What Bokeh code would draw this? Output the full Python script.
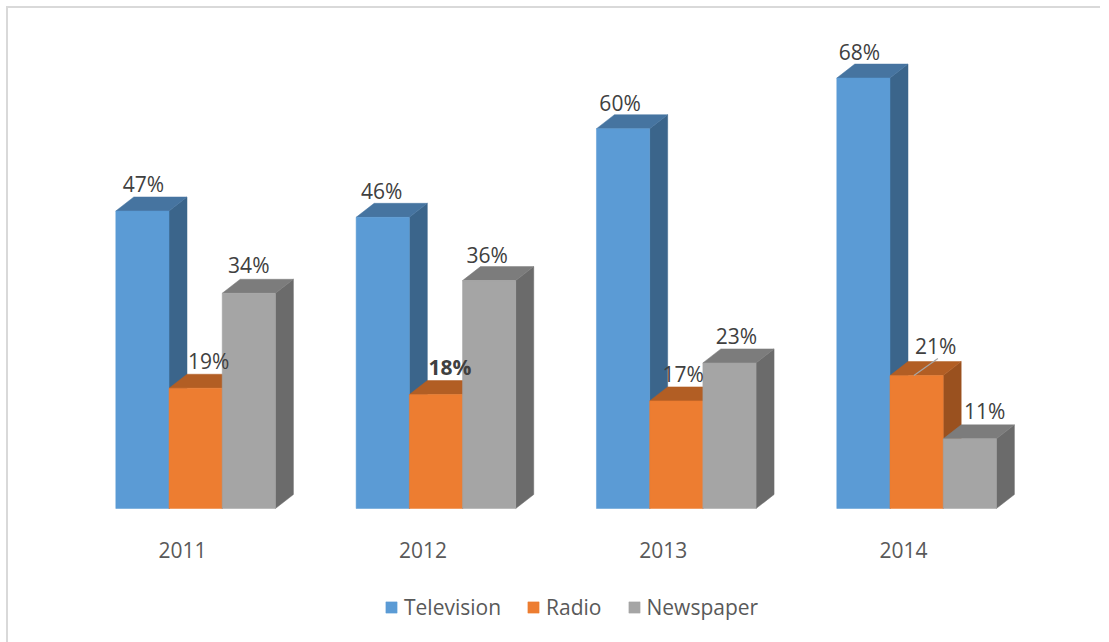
from bokeh.embed import file_html
from bokeh.models import Legend, LegendItem, Range1d
from bokeh.plotting import figure
from bokeh.resources import INLINE
from bokeh.core.properties import value

# Share of respondents by medium and year
years = ["2011", "2012", "2013", "2014"]
television = [47, 46, 60, 68]
radio = [19, 18, 17, 21]
newspaper = [34, 36, 23, 11]
series_names = ["Television", "Radio", "Newspaper"]

# Front, top and side face colours of each series
front_colors = ["#5b9bd5", "#ed7d31", "#a5a5a5"]
top_colors = ["#4674a0", "#b25e24", "#7c7c7c"]
side_colors = ["#3b658b", "#9a511f", "#6b6b6b"]

WIDTH, HEIGHT = 1109, 642
BASE_Y = 508          # pixel row of the bar bases
PX_PER_PCT = 6.33
GROUP_STEP = 240.33   # pixels between year groups
FIRST_LEFT = 115.3    # pixel column where the first bar begins
BAR_W = 53.2
DEPTH_X, DEPTH_Y = 18, 14

# One x unit is one year group, one y unit is one percentage point
x_start = -FIRST_LEFT / GROUP_STEP
x_end = (WIDTH - FIRST_LEFT) / GROUP_STEP
y_start = -(HEIGHT - BASE_Y) / PX_PER_PCT
y_end = BASE_Y / PX_PER_PCT
bar_w = BAR_W / GROUP_STEP
dx = DEPTH_X / GROUP_STEP
dy = DEPTH_Y / PX_PER_PCT

# The thin top and left frame lines are painted behind a transparent canvas
FRAME = "linear-gradient(#d9d9d9,#d9d9d9)"

p = figure(
    width=WIDTH, height=HEIGHT,
    x_range=Range1d(x_start, x_end), y_range=Range1d(y_start, y_end),
    output_backend="svg", toolbar_location=None,
    x_axis_type=None, y_axis_type=None,
    min_border=0, outline_line_color=None,
    background_fill_color=None, border_fill_color=None,
    styles={
        "background-image": f"{FRAME},{FRAME}",
        "background-position": "6px 6px,6px 6px",
        "background-size": "1094px 2px,2px 636px",
        "background-repeat": "no-repeat",
    },
)
p.grid.visible = False

all_series = [television, radio, newspaper]
legend_items = []

for s, vals in enumerate(all_series):
    lefts = [g + s * bar_w for g in range(len(years))]
    rights = [x + bar_w for x in lefts]
    tops_xs = [[l, r, r + dx, l + dx] for l, r in zip(lefts, rights)]
    tops_ys = [[v, v, v + dy, v + dy] for v in vals]
    side_xs = [[r, r + dx, r + dx, r] for r in rights]
    side_ys = [[0, dy, v + dy, v] for v in vals]
    p.patches(side_xs, side_ys, fill_color=side_colors[s], line_color=side_colors[s], line_width=0.5)
    p.patches(tops_xs, tops_ys, fill_color=top_colors[s], line_color=top_colors[s], line_width=0.5)
    r = p.quad(left=lefts, right=rights, bottom=0, top=vals,
               fill_color=front_colors[s], line_color=front_colors[s], line_width=0.5)
    legend_items.append(LegendItem(label=series_names[s], renderers=[r]))

# Value labels: per-bar nudges in pixels from the bar's top centre
nudge_x = [
    [1, -1, -3, -4],
    [13, 14, 7, 19],
    [0, -2, 7, 15],
]
nudge_y = [
    [13, 12, 12, 12],
    [13, 14, 13, 16],
    [14, 12, 13, 14],
]
for s, vals in enumerate(all_series):
    for g, v in enumerate(vals):
        bold = s == 1 and g == 1
        p.text(
            x=[g + (s + 0.5) * bar_w], y=[v], text=[f"{v}%"],
            x_offset=[nudge_x[s][g]], y_offset=[-nudge_y[s][g]],
            text_font=value("Open Sans"), text_font_size="21px",
            text_font_style="bold" if bold else "normal",
            text_color="#404040", text_align="center", text_baseline="bottom",
        )

# Leader line joining the 2014 radio bar to its label
p.line(x=[3 + 1.45 * bar_w, 3 + 1.9 * bar_w], y=[radio[3], radio[3] + 2.7],
       line_color="#a6a6a6", line_width=1.2)

# Year labels under the groups
tick_positions = [g + 1.5 * bar_w - 13 / GROUP_STEP for g in range(len(years))]
p.text(
    x=tick_positions, y=[0] * len(years), text=years, y_offset=41,
    text_font=value("Open Sans"), text_font_size="21px", text_color="#595959",
    text_align="center", text_baseline="middle",
)

legend = Legend(
    items=legend_items, orientation="horizontal", location=(384, 21),
    background_fill_alpha=0, border_line_color=None,
    label_text_font="Open Sans", label_text_font_size="21px", label_text_color="#595959",
    glyph_width=14, glyph_height=14, label_standoff=6, spacing=25, margin=0, padding=5,
)
p.add_layout(legend, "center")

open("out.html", "w").write(file_html(p, INLINE))
